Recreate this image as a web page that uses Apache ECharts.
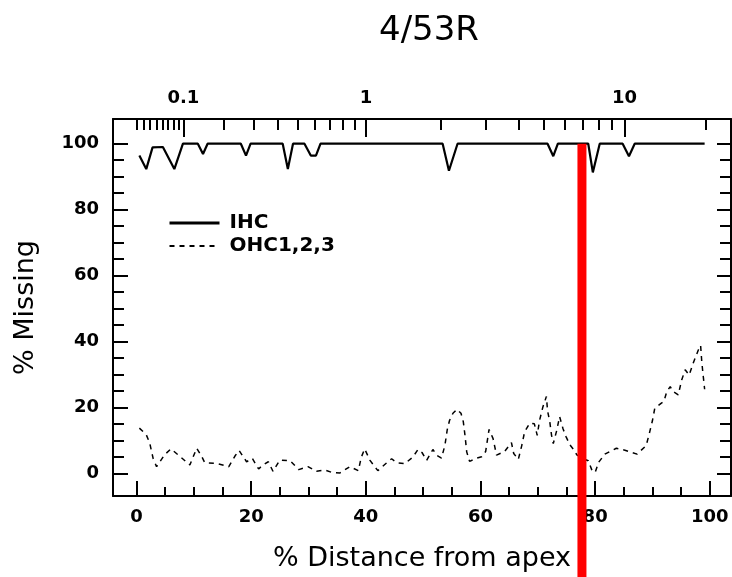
<!DOCTYPE html>
<html><head><meta charset="utf-8">
<script src="https://cdn.jsdelivr.net/npm/echarts@6/dist/echarts.min.js"></script>
<style>html,body{margin:0;padding:0;background:#fff}#c{width:732px;height:577px}</style>
</head><body><div id="c"></div>
<script>
const titleText = '4/53R';
const xAxisTitle = '% Distance from apex';
const yAxisTitle = '% Missing';
const seriesNames = ['IHC', 'OHC1,2,3'];

const ihcPct     = [0.5, 1.7, 2.8, 4.6, 6.6, 8.1, 10.7, 11.6, 12.4, 18.2, 19.1, 19.9, 25.5, 26.4, 27.3, 29.3, 30.4, 31.3, 32.1, 53.4, 54.5, 56.0, 71.7, 72.7, 73.5, 78.8, 79.6, 80.8, 84.8, 85.9, 86.9, 99.1];
const ihcMissing = [96.4, 92.3, 98.9, 99.0, 92.3, 100, 100, 96.9, 100, 100, 96.4, 100, 100, 92.3, 100, 100, 96.4, 96.4, 100, 100, 91.8, 100, 100, 96.2, 100, 100, 91.3, 100, 100, 96.2, 100, 100];

const ohcPct     = [0.5, 1.7, 2.3, 2.9, 3.5, 4.9, 6.0, 7.6, 9.3, 10.5, 11.4, 11.9, 13.9, 16.1, 17.2, 17.9, 19.2, 20.2, 21.3, 22.1, 23.0, 23.8, 25.0, 26.8, 28.3, 29.9, 31.4, 32.8, 34.2, 35.5, 37.2, 38.7, 39.2, 39.8, 40.7, 41.3, 42.1, 43.6, 44.5, 45.4, 46.8, 48.2, 49.1, 49.8, 50.6, 51.7, 52.4, 53.2, 53.8, 54.2, 54.6, 55.2, 55.9, 56.6, 57.0, 57.3, 57.6, 58.1, 59.4, 60.2, 60.9, 61.5, 62.2, 62.8, 64.2, 65.4, 65.8, 66.6, 67.2, 67.7, 68.6, 69.4, 69.9, 70.3, 70.9, 71.5, 71.7, 72.1, 72.4, 72.7, 73.3, 73.8, 74.4, 74.9, 75.6, 76.2, 76.8, 77.8, 78.8, 79.4, 80.0, 80.6, 81.7, 83.7, 85.2, 87.3, 88.9, 89.4, 90.0, 90.4, 91.5, 92.0, 92.5, 93.1, 93.6, 94.5, 95.1, 95.7, 96.4, 97.1, 98.0, 98.4, 98.6, 98.8, 99.1];
const ohcMissing = [13.7, 11.7, 9.2, 4.5, 2.0, 5.6, 7.4, 5.1, 2.5, 7.6, 5.0, 3.2, 3.0, 2.0, 5.3, 6.9, 3.5, 4.5, 1.3, 2.6, 3.5, 0.6, 4.0, 3.8, 1.1, 2.0, 0.6, 1.0, 0.2, 0.1, 2.0, 0.8, 4.8, 7.4, 4.0, 2.6, 0.8, 3.1, 4.4, 3.2, 2.9, 4.9, 7.2, 6.3, 3.9, 7.2, 5.4, 4.6, 8.5, 13.2, 16.0, 18.2, 19.4, 18.2, 15.7, 11.5, 6.5, 3.6, 4.6, 5.0, 6.6, 13.3, 10.5, 5.5, 6.6, 9.3, 6.0, 4.2, 8.4, 12.6, 15.2, 15.0, 11.5, 16.0, 20.2, 23.3, 19.0, 15.5, 11.5, 9.0, 13.0, 17.2, 13.5, 11.2, 8.6, 7.3, 5.6, 4.5, 3.8, 1.1, 0.2, 3.3, 5.8, 7.6, 7.0, 5.8, 8.4, 11.7, 16.0, 19.7, 21.2, 21.8, 24.8, 26.3, 24.8, 23.8, 28.3, 31.4, 29.8, 33.4, 37.4, 38.8, 33.9, 30.4, 25.5];

const xMajorTicks = [0, 20, 40, 60, 80, 100];
const xMinorTicks = [5, 10, 15, 25, 30, 35, 45, 50, 55, 65, 70, 75, 85, 90, 95];
const yMajorTicks = [0, 20, 40, 60, 80, 100];
const yMinorTicks = [5, 10, 15, 25, 30, 35, 45, 50, 55, 65, 70, 75, 85, 90, 95];
const freqMajorKHz = [0.1, 1, 10];
const freqMajorLabels = ['0.1', '1', '10'];
const freqMinorKHz = [0.02, 0.03, 0.04, 0.05, 0.06, 0.07, 0.08, 0.09, 0.2, 0.3, 0.4, 0.5, 0.6, 0.7, 0.8, 0.9, 2, 3, 4, 5, 6, 7, 8, 9, 20];
const markerPct = 77.7;
const markerFromMissing = 100;

// Greenwood frequency-place map (human): f = 165.4 (10^(2.1 x) - 0.88) Hz
function placeFromFreq(kHz) { return 100 * Math.log10(kHz * 1000 / 165.4 + 0.88) / 2.1; }
const freqMajorPos = freqMajorKHz.map(placeFromFreq);
const freqMinorPos = freqMinorKHz.map(placeFromFreq);

const X_MIN = -4.1, X_MAX = 103.7, Y_MIN = -6.9, Y_MAX = 107.5;
const tickFont = { fontFamily: 'DejaVu Sans', fontWeight: 'bold', fontSize: 18, color: '#000' };
const nameFont = { fontFamily: 'DejaVu Sans', fontSize: 27, color: '#000' };

function xAx(pos, major, opts) {
  return Object.assign({
    type: 'value', position: pos, min: X_MIN, max: X_MAX, splitLine: { show: false },
    axisLine: { show: major, onZero: false, lineStyle: { color: '#000', width: 2 } },
    axisLabel: { show: false }, nameMoveOverlap: false
  }, opts);
}
function yAx(pos, major, opts) {
  return Object.assign({
    type: 'value', position: pos, min: Y_MIN, max: Y_MAX, splitLine: { show: false },
    axisLine: { show: major, onZero: false, lineStyle: { color: '#000', width: 2 } },
    axisLabel: { show: false }, nameMoveOverlap: false
  }, opts);
}

const chart = echarts.init(document.getElementById('c'), null, { renderer: 'canvas' });
chart.setOption({
  animation: false,
  backgroundColor: '#fff',
  title: { text: titleText, left: 424, textAlign: 'center', top: 9,
    textStyle: { fontFamily: 'DejaVu Sans', fontWeight: 'normal', fontSize: 34, color: '#000' } },
  grid: { left: 113, right: 1, top: 119, bottom: 81, containLabel: false, outerBoundsMode: 'none' },
  legend: { left: 168, top: 213, orient: 'vertical', itemWidth: 50, itemHeight: 14, itemGap: 3, padding: 0,
    itemStyle: { opacity: 0 },
    data: [{ name: seriesNames[0], lineStyle: { width: 3 } }, { name: seriesNames[1] }],
    textStyle: Object.assign({}, tickFont, { fontSize: 20, padding: [0, 0, 0, 5] }) },
  xAxis: [
    xAx('bottom', true, { axisTick: { inside: true, length: 15, customValues: xMajorTicks, lineStyle: { color: '#000', width: 2 } },
      axisLabel: { show: true, customValues: xMajorTicks, margin: 12, ...tickFont },
      name: xAxisTitle, nameLocation: 'middle', nameGap: 49, nameTextStyle: nameFont }),
    xAx('bottom', false, { axisTick: { inside: true, length: 9, customValues: xMinorTicks, lineStyle: { color: '#000', width: 2 } } }),
    xAx('top', true, { axisTick: { inside: true, length: 18, customValues: freqMajorPos, lineStyle: { color: '#000', width: 2 } },
      axisLabel: { show: true, customValues: freqMajorPos, margin: 12, ...tickFont,
        formatter: v => { const i = freqMajorPos.findIndex(p => Math.abs(p - v) < 1e-6); return i >= 0 ? freqMajorLabels[i] : ''; } } }),
    xAx('top', false, { axisTick: { inside: true, length: 11, customValues: freqMinorPos, lineStyle: { color: '#000', width: 2 } } })
  ],
  yAxis: [
    yAx('left', true, { axisTick: { inside: true, length: 15, customValues: yMajorTicks, lineStyle: { color: '#000', width: 2 } },
      axisLabel: { show: true, customValues: yMajorTicks, margin: 14, ...tickFont },
      name: yAxisTitle, nameLocation: 'middle', nameRotate: 90, nameGap: 74, nameTextStyle: nameFont }),
    yAx('left', false, { axisTick: { inside: true, length: 11, customValues: yMinorTicks, lineStyle: { color: '#000', width: 2 } } }),
    yAx('right', true, { axisTick: { inside: true, length: 14, customValues: yMajorTicks, lineStyle: { color: '#000', width: 2 } } }),
    yAx('right', false, { axisTick: { inside: true, length: 11, customValues: yMinorTicks, lineStyle: { color: '#000', width: 2 } } })
  ],
  series: [
    { type: 'line', name: seriesNames[0], xAxisIndex: 0, yAxisIndex: 0, symbol: 'none', showSymbol: false,
      data: ihcPct.map((x, i) => [x, ihcMissing[i]]),
      lineStyle: { color: '#000', width: 2.2 }, itemStyle: { color: '#000' } },
    { type: 'line', name: seriesNames[1], xAxisIndex: 0, yAxisIndex: 0, symbol: 'none', showSymbol: false,
      data: ohcPct.map((x, i) => [x, ohcMissing[i]]),
      lineStyle: { color: '#000', width: 1.5, type: [5, 5] }, itemStyle: { color: '#000' } }
  ]
});

const mx = chart.convertToPixel({ xAxisIndex: 0 }, markerPct);
const my = chart.convertToPixel({ yAxisIndex: 0 }, markerFromMissing);
chart.setOption({ graphic: [{ type: 'rect', z: 100, shape: { x: mx - 4.5, y: my, width: 9, height: chart.getHeight() - my }, style: { fill: '#ff0000' } }] });
</script></body></html>
